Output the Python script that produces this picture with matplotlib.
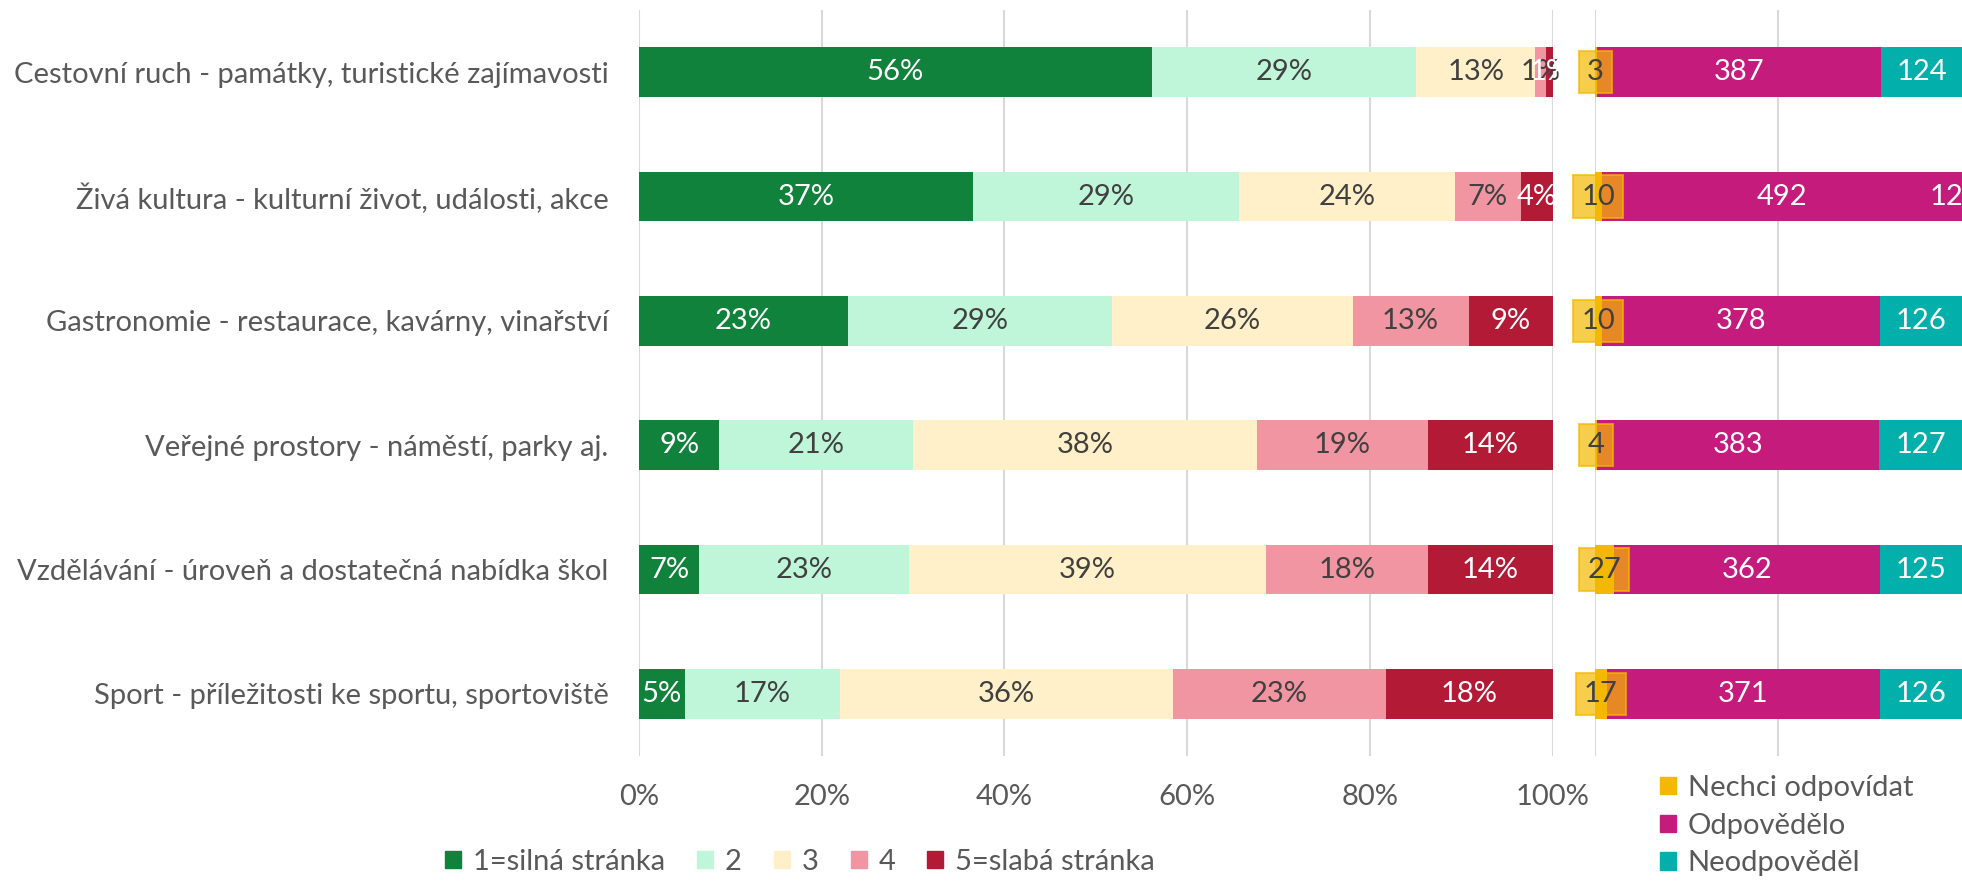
import numpy as np
import matplotlib
matplotlib.use("Agg")
import matplotlib.pyplot as plt
from matplotlib.patches import Patch

# ====== data ======
categories = [
    "Cestovní ruch - památky, turistické zajímavosti",
    "Živá kultura - kulturní život, události, akce",
    "Gastronomie - restaurace, kavárny, vinařství",
    "Veřejné prostory - náměstí, parky aj.",
    "Vzdělávání - úroveň a dostatečná nabídka škol",
    "Sport - příležitosti ke sportu, sportoviště",
]
score_labels = ["1=silná stránka", "2", "3", "4", "5=slabá stránka"]
score1 = [56.1, 36.6, 22.9, 8.8, 6.6, 5.0]
score2 = [29.0, 29.1, 28.9, 21.2, 22.9, 17.0]
score3 = [13.0, 23.6, 26.3, 37.6, 39.1, 36.4]
score4 = [1.2, 7.2, 12.7, 18.8, 17.8, 23.4]
score5 = [0.7, 3.5, 9.2, 13.6, 13.6, 18.2]

count_labels = ["Nechci odpovídat", "Odpovědělo", "Neodpověděl"]
nechci = [3, 10, 10, 4, 27, 17]
odpovedelo = [387, 492, 378, 383, 362, 371]
neodpovedel = [124, 12, 126, 127, 125, 126]
# ==================

score_colors = ["#11823B", "#BFF5D8", "#FFF0C9", "#F095A1", "#B31A35"]
score_text = ["white", "#404040", "#404040", "#404040", "white"]
count_colors = ["#F5B800", "#C51B7D", "#03AFAB"]

FS = 21
GRID = "#D9D9D9"
TXT = "#595959"

plt.rcParams["font.family"] = ["Lato", "DejaVu Sans"]
plt.rcParams["font.size"] = FS

W, H = 1962, 884
fig = plt.figure(figsize=(W / 100, H / 100), dpi=100)

bottom = 1 - 756 / H
height = (756 - 10) / H
ax = fig.add_axes([639 / W, bottom, (1552.6 - 639) / W, height])
ax2 = fig.add_axes([1594.5 / W, bottom, (W - 1594.5) / W, height])

y = np.arange(len(categories))
bar_h = 0.4

# -------- left panel: 100 % stacked --------
left = np.zeros(len(categories))
scores = [score1, score2, score3, score4, score5]
for vals, col, tc, lab in zip(scores, score_colors, score_text, score_labels):
    vals = np.array(vals)
    ax.barh(y, vals, left=left, height=bar_h, color=col, label=lab, zorder=2)
    for yi, (l, v) in enumerate(zip(left, vals)):
        ax.text(l + v / 2, yi, f"{round(v):d}%", ha="center", va="center",
                color=tc, fontsize=FS, zorder=3)
    left += vals

ax.set_xlim(0, 100)
ax.set_ylim(len(categories) - 0.5, -0.5)
ax.set_xticks(np.arange(0, 101, 20))
ax.set_xticklabels([f"{v}%" for v in range(0, 101, 20)])
ax.set_yticks(y)
ax.set_yticklabels(categories)
ax.tick_params(axis="both", length=0, colors=TXT, labelsize=FS)
ax.tick_params(axis="x", pad=20)
ax.tick_params(axis="y", pad=22)
ax.grid(axis="x", color=GRID, lw=1.5, zorder=0)
ax.set_axisbelow(True)
for s in ax.spines.values():
    s.set_visible(False)

# -------- right panel: counts --------
XMAX = 500
lefts = np.zeros(len(categories))
counts = [nechci, odpovedelo, neodpovedel]
for i, (vals, col, lab) in enumerate(zip(counts, count_colors, count_labels)):
    vals = np.array(vals, dtype=float)
    ax2.barh(y, vals, left=lefts, height=bar_h, color=col, label=lab, zorder=2)
    for yi, (l, v) in enumerate(zip(lefts, vals)):
        if i == 0:
            ax2.text(l + v / 2, yi, f"{int(v)}", ha="center", va="center",
                     color="#404040", fontsize=FS, zorder=4,
                     bbox=dict(boxstyle="square,pad=0.28", facecolor=col,
                               alpha=0.7, edgecolor=col, lw=1.5))
        else:
            a, b = min(l, XMAX), min(l + v, XMAX)
            xc = (a + b) / 2 if b > a else XMAX - 21
            ax2.text(xc, yi, f"{int(v)}", ha="center", va="center",
                     color="white", fontsize=FS, zorder=3, clip_on=False)
    lefts += vals

ax2.set_xlim(0, XMAX)
ax2.set_ylim(len(categories) - 0.5, -0.5)
ax2.set_xticks([0, 250])
ax2.set_xticklabels([])
ax2.set_yticks([])
ax2.tick_params(length=0)
ax2.grid(axis="x", color=GRID, lw=1.5, zorder=0)
ax2.set_axisbelow(True)
for s in ax2.spines.values():
    s.set_visible(False)

# -------- legends --------
h1 = [Patch(color=c, label=l) for c, l in zip(score_colors, score_labels)]
fig.legend(handles=h1, loc="center", bbox_to_anchor=(800 / W, 1 - 862 / H),
           ncol=5, frameon=False, fontsize=FS, labelcolor=TXT,
           handlelength=0.55, handleheight=0.55, handletextpad=0.4,
           columnspacing=1.1, borderpad=0, borderaxespad=0)

h2 = [Patch(color=c, label=l) for c, l in zip(count_colors, count_labels)]
fig.legend(handles=h2, loc="upper left", bbox_to_anchor=(1660 / W, 1 - 775 / H),
           ncol=1, frameon=False, fontsize=FS, labelcolor=TXT,
           handlelength=0.55, handleheight=0.55, handletextpad=0.4,
           labelspacing=0.4, borderpad=0, borderaxespad=0)

fig.savefig("out.png", dpi=100)
